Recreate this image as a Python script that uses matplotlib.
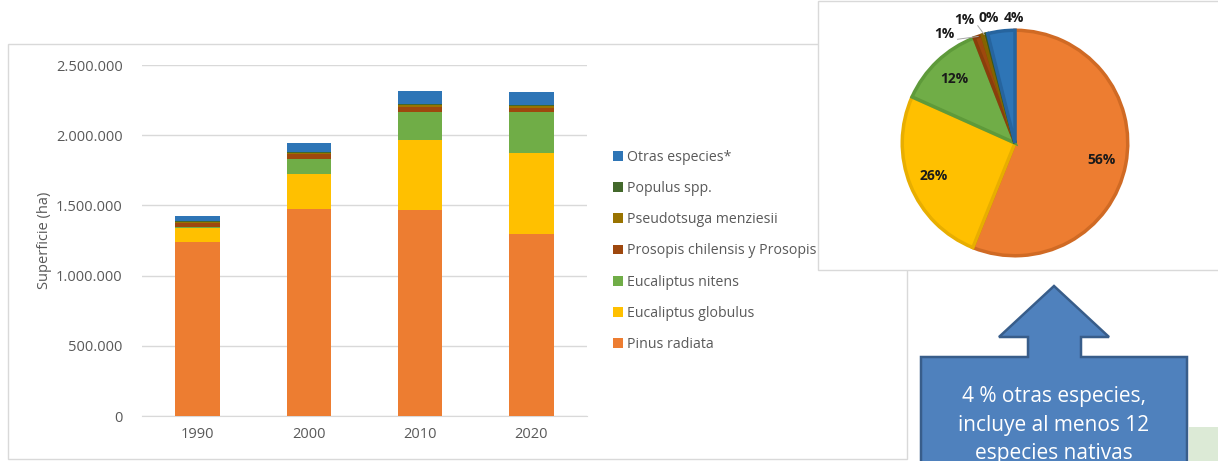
import matplotlib
matplotlib.use("Agg")
import math
import matplotlib.pyplot as plt
from matplotlib.patches import Rectangle, Polygon
from matplotlib.ticker import FuncFormatter, MultipleLocator

plt.rcParams['font.family'] = ['Open Sans', 'DejaVu Sans']

# ---------------- data ----------------
years = ["1990", "2000", "2010", "2020"]
species = ["Pinus radiata", "Eucaliptus globulus", "Eucaliptus nitens",
           "Prosopis chilensis y Prosopis", "Pseudotsuga menziesii",
           "Populus spp.", "Otras especies*"]
pinus = [1236000, 1471000, 1464000, 1293000]
globulus = [102000, 255000, 505000, 583000]
nitens = [5000, 102000, 197000, 288000]
prosopis = [30000, 36000, 36000, 32000]
pseudotsuga = [10000, 12000, 12000, 12000]
populus = [5000, 5000, 5000, 5000]
otras = [40000, 64000, 95000, 92000]
series = [pinus, globulus, nitens, prosopis, pseudotsuga, populus, otras]

colors = ["#ED7D31", "#FFC000", "#70AD47", "#9E480E", "#997300", "#43682B", "#2E75B6"]
edge_colors = ["#D06A24", "#E8AE00", "#5E9A3A", "#8A3E0B", "#846300", "#37571F", "#26649E"]

pie_share = [56.1, 25.6, 12.4, 1.2, 0.6, 0.2, 3.9]
pie_labels = ["56%", "26%", "12%", "1%", "1%", "0%", "4%"]

arrow_text = "4 % otras especies,\nincluye al menos 12\nespecies nativas"

# ---------------- figure ----------------
W, H = 1218, 461
fig = plt.figure(figsize=(W / 100, H / 100), dpi=100)
fig.patch.set_facecolor("white")

def fx(x):
    return x / W

def fy(y):
    return 1 - y / H

# bar chart outer frame
fig.patches.append(Rectangle((fx(8), fy(459)), fx(907) - fx(8), fy(44) - fy(459),
                             transform=fig.transFigure, facecolor="none",
                             edgecolor="#D9D9D9", linewidth=1.0, zorder=-1))

ax = fig.add_axes([fx(142), fy(416), fx(587) - fx(142), fy(65) - fy(416)], zorder=1)
ax.set_facecolor("none")
bottom = [0] * len(years)
x = list(range(len(years)))
for vals, name, col in zip(series, species, colors):
    ax.bar(x, vals, width=0.4, bottom=bottom, color=col, label=name, zorder=3)
    bottom = [b + v for b, v in zip(bottom, vals)]

ax.set_xlim(-0.5, 3.5)
ax.set_ylim(0, 2500000)
ax.yaxis.set_major_locator(MultipleLocator(500000))
ax.yaxis.set_major_formatter(FuncFormatter(lambda v, p: f"{v:,.0f}".replace(",", ".")))
ax.set_xticks(x)
ax.set_xticklabels(years)
ax.grid(axis="y", color="#D9D9D9", linewidth=1.0, zorder=0)
for s in ["top", "right", "left"]:
    ax.spines[s].set_visible(False)
ax.spines["bottom"].set_color("#D9D9D9")
ax.tick_params(axis="both", length=0, labelsize=10.5, colors="#595959")
ax.tick_params(axis="y", pad=14)
ax.tick_params(axis="x", pad=8)
ax.set_ylabel("Superficie (ha)", fontsize=10.5, color="#595959", labelpad=3)

handles, labels = ax.get_legend_handles_labels()
leg = fig.legend(handles[::-1], labels[::-1], loc="upper left",
                 bbox_to_anchor=(fx(613), fy(150)), frameon=False,
                 fontsize=10.2, labelcolor="#595959", handlelength=0.7,
                 handleheight=0.7, handletextpad=0.3, labelspacing=1.14,
                 borderaxespad=0, borderpad=0)

# ---------------- pie panel ----------------
fig.patches.append(Rectangle((fx(818), fy(270)), fx(1240) - fx(818), fy(1) - fy(270),
                             transform=fig.transFigure, facecolor="white",
                             edgecolor="#D9D9D9", linewidth=1.0, zorder=5))

cx, cy, r = 1015, 143, 115
pax = fig.add_axes([fx(cx - r), fy(cy + r), fx(2 * r), fy(0) - fy(2 * r)], zorder=6)
wedges, _ = pax.pie(pie_share, colors=colors, startangle=90, counterclock=False,
                    wedgeprops=dict(linewidth=2.5))
for w, ec in zip(wedges, edge_colors):
    w.set_edgecolor(ec)
pax.set_xlim(-1.02, 1.02)
pax.set_ylim(-1.02, 1.02)
pax.set_aspect("equal")
pax.axis("off")

tot = sum(pie_share)
ang = 90.0
mids = []
for v in pie_share:
    span = v / tot * 360
    mids.append(ang - span / 2)
    ang -= span

label_pos = {0: None, 1: None, 2: None,
             3: (-0.63, 0.97), 4: (-0.45, 1.09), 5: (-0.23, 1.11), 6: (-0.01, 1.11)}
for i, lab in enumerate(pie_labels):
    a = math.radians(mids[i])
    if label_pos[i] is None:
        pax.text(0.78 * math.cos(a), 0.78 * math.sin(a), lab, ha="center", va="center",
                 fontsize=10, fontweight="bold", color="#1a1a1a")
    else:
        tx, ty = label_pos[i]
        pax.text(tx, ty, lab, ha="center", va="center", fontsize=10,
                 fontweight="bold", color="#1a1a1a", clip_on=False)
        if i in (3, 4):
            ex, ey = math.cos(a), math.sin(a)
            pax.plot([tx + 0.12, ex], [ty - 0.05, ey],
                     color="#A6A6A6", linewidth=0.7, clip_on=False)

# ---------------- arrow callout ----------------
pts = [(1054, 286), (1109, 337), (1081, 337), (1081, 357), (1187, 357), (1187, 475),
       (921, 475), (921, 357), (1028, 357), (1028, 337), (999, 337)]
fig.patches.append(Polygon([(fx(px), fy(py)) for px, py in pts], closed=True,
                           transform=fig.transFigure, facecolor="#4F81BD",
                           edgecolor="#385D8A", linewidth=1.8, zorder=7))
fig.text(fx(1054), fy(425), arrow_text, ha="center", va="center", color="white",
         fontsize=15, linespacing=1.45, zorder=8)

# background map fragment
fig.patches.append(Rectangle((fx(1189), fy(461)), fx(40), fy(0) - fy(34),
                             transform=fig.transFigure, facecolor="#DCEAD6",
                             edgecolor="none", zorder=1))

fig.savefig("out.png", dpi=100)
